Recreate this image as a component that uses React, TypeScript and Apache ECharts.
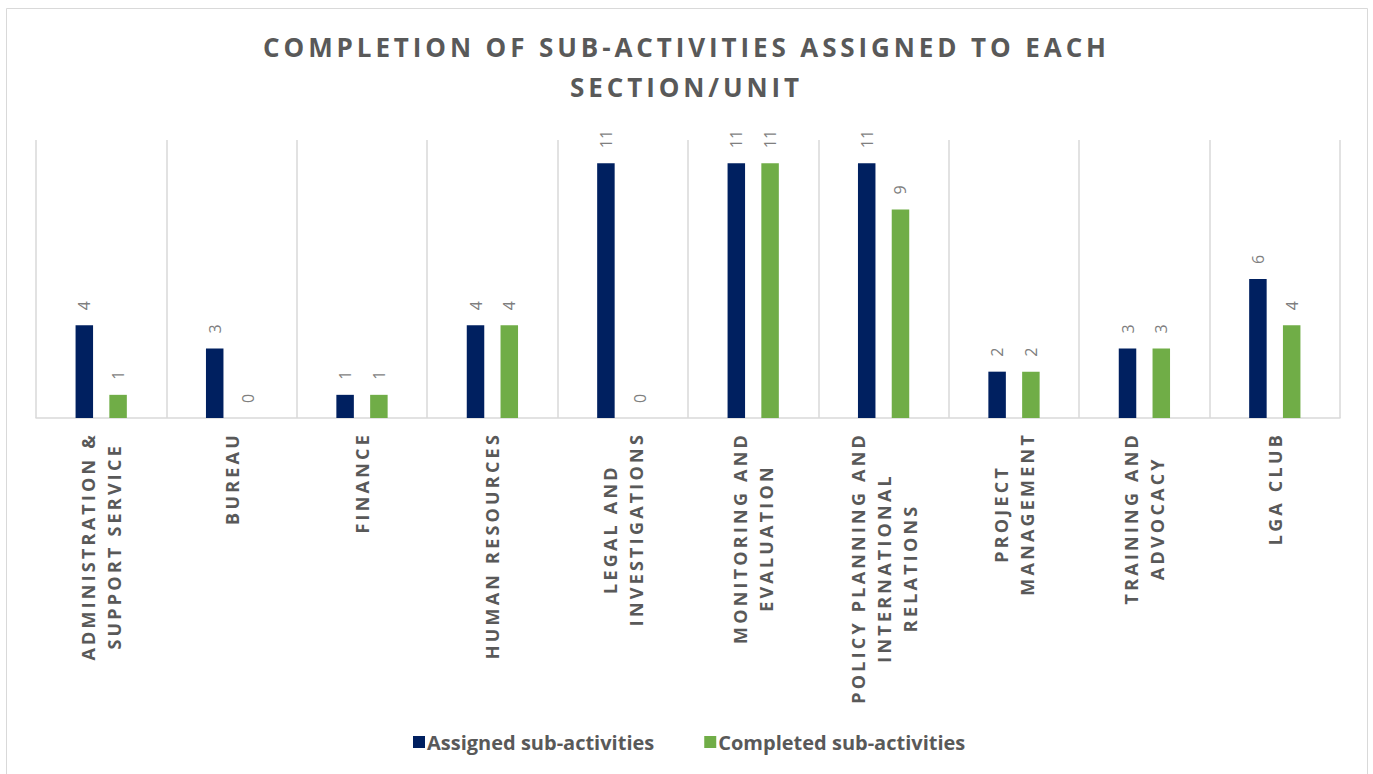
import React, { useEffect, useRef } from 'react';
import * as echarts from 'echarts';

const categories = [
  'ADMINISTRATION &\nSUPPORT SERVICE',
  'BUREAU',
  'FINANCE',
  'HUMAN RESOURCES',
  'LEGAL AND\nINVESTIGATIONS',
  'MONITORING AND\nEVALUATION',
  'POLICY PLANNING AND\nINTERNATIONAL\nRELATIONS',
  'PROJECT\nMANAGEMENT',
  'TRAINING AND\nADVOCACY',
  'LGA CLUB',
];
const assigned = [4, 3, 1, 4, 11, 11, 11, 2, 3, 6];
const completed = [1, 0, 1, 4, 0, 11, 9, 2, 3, 4];
const seriesNames = ['Assigned sub-activities', 'Completed sub-activities'];
const titleText = 'COMPLETION OF SUB-ACTIVITIES ASSIGNED TO EACH\nSECTION/UNIT';

const LS_LABEL = 3.2;
const LS_TITLE = 3.9;
const FONT_LABEL = 'Open Sans, LSA';
const FONT_TITLE = 'Open Sans, LSB';

export default function App() {
  const ref = useRef<HTMLDivElement>(null);
  useEffect(() => {
    const mctx = document.createElement('canvas').getContext('2d');
    const api = (echarts as any).setPlatformAPI;
    if (api && mctx) {
      api({
        measureText(text: string, font?: string) {
          const f = font || '12px sans-serif';
          mctx.font = f;
          let ls = 0;
          if (f.indexOf('LSA') >= 0) ls = LS_LABEL;
          else if (f.indexOf('LSB') >= 0) ls = LS_TITLE;
          return { width: mctx.measureText(text).width + ls * text.length };
        },
      });
    }
    const chart = echarts.init(ref.current!, null, { renderer: 'svg' });
    const dataLabel = {
      show: true,
      position: 'top',
      distance: 15,
      rotate: 90,
      align: 'left',
      verticalAlign: 'middle',
      fontSize: 16,
      color: '#7f7f7f',
      fontFamily: 'Open Sans',
    };
    chart.setOption({
      animation: false,
      backgroundColor: '#ffffff',
      title: {
        text: titleText,
        left: 'center',
        top: 22,
        textStyle: {
          fontFamily: FONT_TITLE,
          fontSize: 26,
          fontWeight: 'bold',
          color: '#595959',
          lineHeight: 40,
        },
      },
      graphic: [
        {
          type: 'rect',
          silent: true,
          z: -10,
          shape: { x: 6.5, y: 8.5, width: 1361, height: 800 },
          style: { fill: 'none', stroke: '#d9d9d9', lineWidth: 1 },
        },
      ],
      legend: {
        data: seriesNames,
        left: 408,
        top: 727,
        icon: 'rect',
        itemWidth: 12,
        itemHeight: 12,
        itemGap: 50,
        textStyle: {
          fontFamily: 'Open Sans',
          fontSize: 20,
          fontWeight: 'bold',
          color: '#595959',
          padding: [0, 0, 0, -3],
        },
      },
      grid: {
        left: 36,
        right: 33,
        top: 140,
        bottom: 356,
        containLabel: false,
        outerBoundsMode: 'none',
      },
      xAxis: {
        type: 'category',
        data: categories,
        axisLine: { show: true, lineStyle: { color: '#d9d9d9', width: 1.5 } },
        axisTick: { show: false },
        splitLine: { show: true, lineStyle: { color: '#d9d9d9', width: 1.5 } },
        axisLabel: {
          interval: 0,
          rotate: 90,
          margin: 14,
          formatter: (v: string) =>
            v
              .split('\n')
              .map((l) => '{c|' + l + '}')
              .join('\n'),
          rich: {
            c: {
              align: 'center',
              fontFamily: FONT_LABEL,
              fontSize: 18,
              fontWeight: 'bold',
              color: '#595959',
              lineHeight: 26,
            },
          },
        },
      },
      yAxis: {
        type: 'value',
        min: 0,
        max: 12,
        show: false,
        splitLine: { show: false },
      },
      series: [
        {
          name: seriesNames[0],
          type: 'bar',
          data: assigned,
          barWidth: 17.5,
          barGap: '93%',
          itemStyle: { color: '#002060' },
          label: dataLabel,
        },
        {
          name: seriesNames[1],
          type: 'bar',
          data: completed,
          barWidth: 17.5,
          barGap: '93%',
          itemStyle: { color: '#70AD47' },
          label: dataLabel,
        },
      ],
    });
    return () => chart.dispose();
  }, []);
  return (
    <>
      <style>{`text[style*="LSA"],text[font-family*="LSA"]{letter-spacing:${LS_LABEL}px}text[style*="LSB"],text[font-family*="LSB"]{letter-spacing:${LS_TITLE}px}`}</style>
      <div
        ref={ref}
        style={{ position: 'fixed', left: 0, top: 0, width: 1373, height: 774, background: '#fff' }}
      />
    </>
  );
}
